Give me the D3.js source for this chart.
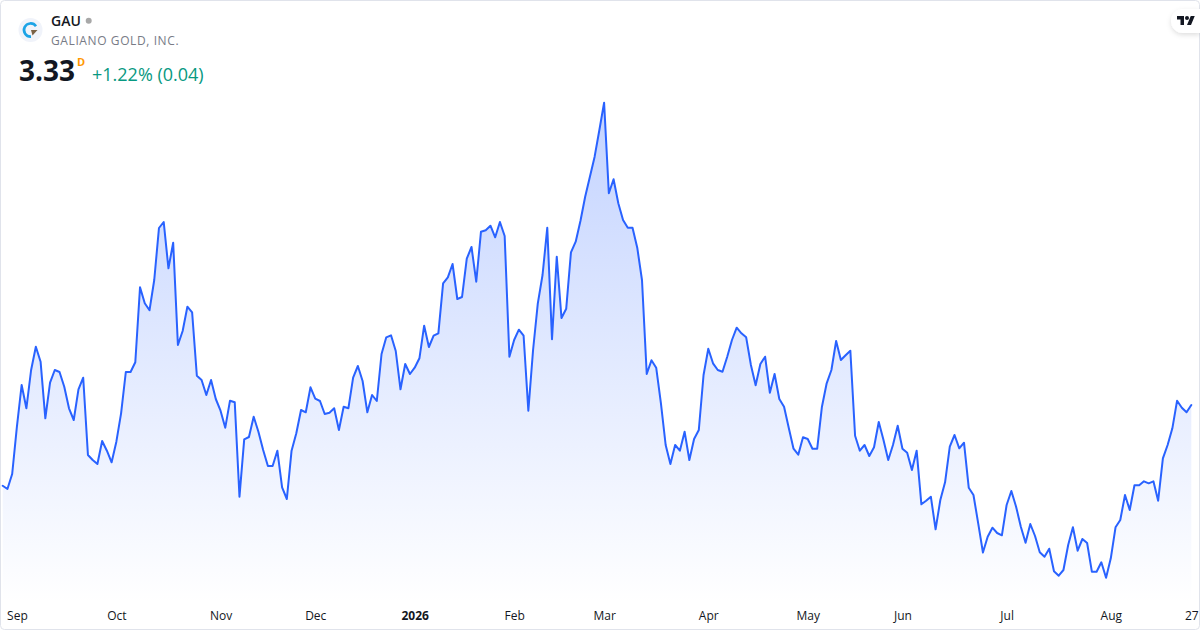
<!DOCTYPE html>
<html>
<head>
<meta charset="utf-8">
<script src="https://cdn.jsdelivr.net/npm/d3@7/dist/d3.min.js"></script>
<style>
html,body{margin:0;padding:0;background:#fff;overflow:hidden}
svg{display:block}
text{font-family:"Open Sans",sans-serif}
</style>
</head>
<body>
<div id="chart"></div>
<script>
const symbol = "GAU";
const company = "GALIANO GOLD, INC.";
const lastPrice = "3.33";
const changeText = "+1.22% (0.04)";
const tickIndex = [3,24,46,66,87,108,127,149,170,190,212,234,251];
const tickLabels = ["Sep","Oct","Nov","Dec","2026","Feb","Mar","Apr","May","Jun","Jul","Aug","27"];
const closes = [
2.523,2.49,2.64,3.113,3.53,3.297,3.68,3.913,3.763,3.197,3.553,3.68,3.66,3.513,3.297,3.18,3.487,3.603,2.83,2.78,
2.74,2.97,2.873,2.757,2.963,3.247,3.66,3.66,3.757,4.507,4.347,4.277,4.58,5.10,5.16,4.697,4.953,3.93,4.07,4.313,
4.257,3.623,3.58,3.43,3.58,3.39,3.273,3.103,3.373,3.357,2.413,2.987,3.01,3.213,3.063,2.88,2.72,2.72,2.873,2.507,
2.39,2.873,3.047,3.28,3.257,3.507,3.393,3.37,3.24,3.253,3.297,3.08,3.313,3.297,3.603,3.72,3.57,3.257,3.43,3.37,
3.84,4.007,4.027,3.87,3.487,3.74,3.64,3.703,3.797,4.123,3.91,4.023,4.047,4.547,4.607,4.74,4.39,4.41,4.793,4.91,
4.563,5.063,5.077,5.123,5.007,5.16,5.02,3.813,3.98,4.083,4.023,3.273,3.88,4.347,4.63,5.103,3.987,4.813,4.20,4.293,
4.857,4.963,5.17,5.413,5.613,5.813,6.08,6.353,5.447,5.587,5.347,5.18,5.103,5.103,4.903,4.58,3.64,3.777,3.703,3.347,
2.93,2.74,2.93,2.873,3.063,2.78,2.99,3.08,3.63,3.893,3.747,3.68,3.663,3.813,3.98,4.103,4.047,4.007,3.73,3.527,
3.74,3.813,3.453,3.64,3.39,3.313,3.10,2.893,2.833,3.007,2.99,2.893,2.893,3.313,3.547,3.68,3.97,3.78,3.827,3.873,
3.023,2.873,2.93,2.82,2.907,3.16,2.98,2.78,2.93,3.123,2.893,2.853,2.68,2.873,2.337,2.373,2.413,2.087,2.38,2.557,
2.913,3.03,2.897,2.953,2.503,2.43,2.147,1.855,2.013,2.103,2.05,2.027,2.33,2.47,2.313,2.113,1.953,2.14,2.02,1.857,
1.813,1.893,1.667,1.623,1.68,1.93,2.107,1.873,1.99,1.95,1.663,1.663,1.757,1.603,1.797,2.107,2.18,2.43,2.28,2.527,
2.527,2.567,2.547,2.567,2.373,2.797,2.93,3.097,3.373,3.303,3.257,3.33
];

const W = 1200, H = 630;
const x = d3.scaleLinear().domain([0, closes.length - 1]).range([2.7, 1191.3]);
const y = d3.scaleLinear().domain([1.5, 6.5]).range([588, 88]);
const baseY = 604;

const svg = d3.select("#chart").append("svg").attr("width", W).attr("height", H).attr("viewBox", `0 0 ${W} ${H}`);
const defs = svg.append("defs");
const grad = defs.append("linearGradient").attr("id", "fillGrad").attr("gradientUnits", "userSpaceOnUse")
  .attr("x1", 0).attr("x2", 0).attr("y1", y(d3.max(closes))).attr("y2", baseY);
grad.append("stop").attr("offset", 0).attr("stop-color", "#2962ff").attr("stop-opacity", 0.28);
grad.append("stop").attr("offset", 1).attr("stop-color", "#2962ff").attr("stop-opacity", 0);
const shadow = defs.append("filter").attr("id", "badgeShadow").attr("x", "-50%").attr("y", "-50%").attr("width", "200%").attr("height", "200%");
shadow.append("feDropShadow").attr("dx", 0).attr("dy", 2).attr("stdDeviation", 2.5).attr("flood-color", "#000").attr("flood-opacity", 0.13);

svg.append("rect").attr("x", 0.5).attr("y", 0.5).attr("width", W - 1).attr("height", H - 1).attr("rx", 4)
  .attr("fill", "#fff").attr("stroke", "#e0e3eb");

const area = d3.area().x((d, i) => x(i)).y0(baseY).y1(d => y(d));
const line = d3.line().x((d, i) => x(i)).y(d => y(d));
svg.append("path").datum(closes).attr("d", area).attr("fill", "url(#fillGrad)");
svg.append("path").datum(closes).attr("d", line).attr("fill", "none").attr("stroke", "#2962ff")
  .attr("stroke-width", 2).attr("stroke-linejoin", "round").attr("stroke-linecap", "round");

const axis = d3.axisBottom(x).tickValues(tickIndex).tickSize(0).tickPadding(0)
  .tickFormat((d, i) => tickLabels[i]);
const ax = svg.append("g").attr("transform", "translate(0,610)").call(axis);
ax.select(".domain").remove();
ax.selectAll("text").attr("font-size", 12).attr("fill", "#131722").attr("dy", "0.8em")
  .style("font-family", '"Open Sans",sans-serif')
  .attr("font-weight", (d, i) => tickLabels[i] === "2026" ? 700 : 400);

// Logo
svg.append("circle").attr("cx", 30.5).attr("cy", 30).attr("r", 12).attr("fill", "#f0f3fa");
svg.append("path").attr("d", "M36 26.2 A6.6 6.6 0 1 0 31 36.6").attr("fill", "none").attr("stroke", "#1ba3e6").attr("stroke-width", 2.6);
svg.append("path").attr("d", "M31 30 L37.5 30 L32.5 35.5 Z").attr("fill", "#7a6245");

// Header
svg.append("text").attr("x", 51).attr("y", 26).attr("font-size", 14).attr("font-weight", 600).attr("fill", "#131722").text(symbol);
svg.append("circle").attr("cx", 88.7).attr("cy", 20.7).attr("r", 3).attr("fill", "#a8a8a8");
svg.append("text").attr("x", 51).attr("y", 45).attr("font-size", 12).attr("letter-spacing", "0.6").attr("fill", "#787b86").text(company);
svg.append("text").attr("x", 19).attr("y", 81).attr("font-size", 28).attr("font-weight", 700).attr("fill", "#131722").text(lastPrice);
svg.append("text").attr("x", 77).attr("y", 66).attr("font-size", 11).attr("font-weight", 700).attr("fill", "#ff9800").text("D");
svg.append("text").attr("x", 92).attr("y", 81).attr("font-size", 18).attr("fill", "#089981").text(changeText);

// Brand badge
svg.append("path").attr("d", "M1200 9 H1183 A12 12 0 0 0 1183 33 H1200 Z").attr("fill", "#fff").attr("filter", "url(#badgeShadow)");
const logo = svg.append("g").attr("transform", "translate(1177,14) scale(0.5)").attr("fill", "#131722");
logo.append("path").attr("d", "M14 22H7V11H0V4h14v18zM28 22h-8l7.5-18h8L28 22z");
logo.append("circle").attr("cx", 20).attr("cy", 8).attr("r", 4);
</script>
</body>
</html>
